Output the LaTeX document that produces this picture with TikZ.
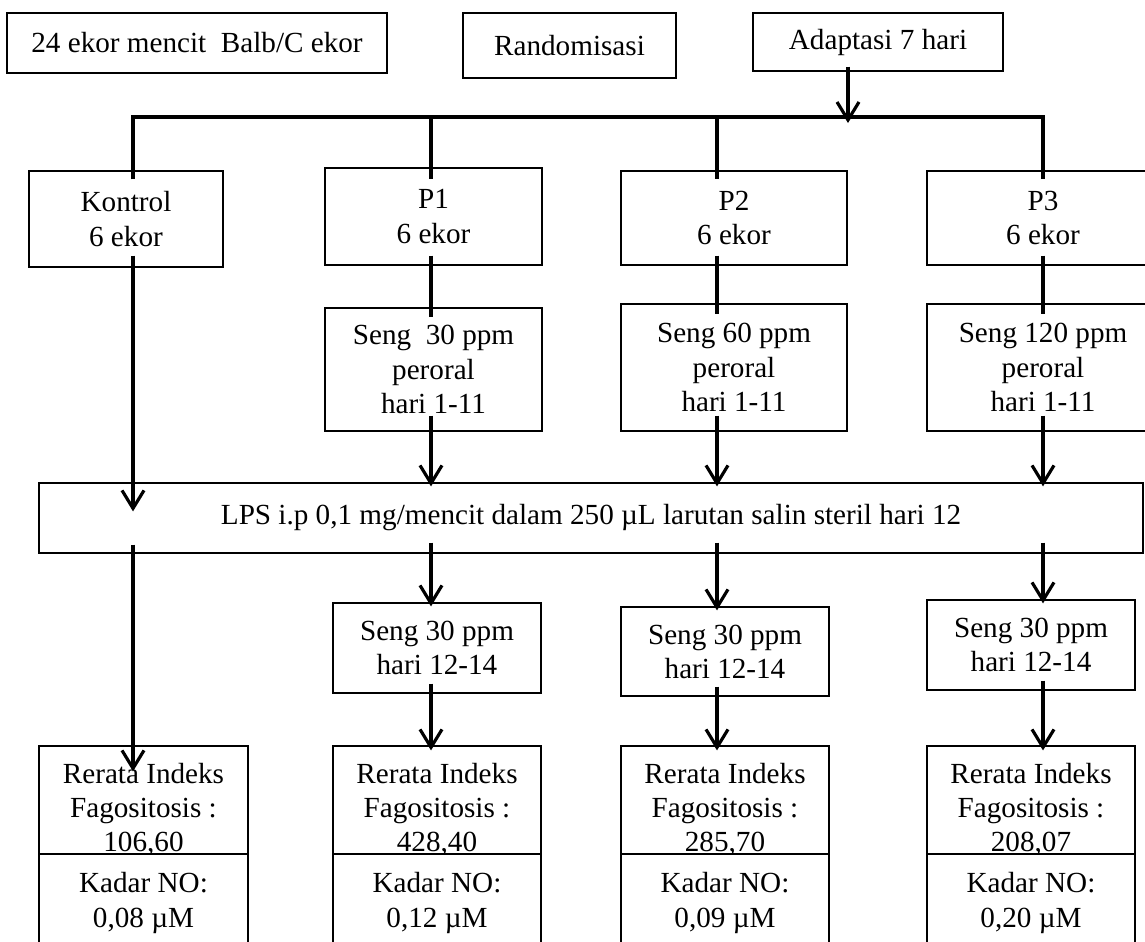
\documentclass[tikz,border=0pt]{standalone}
\usepackage{fontspec}
\setmainfont{Liberation Serif}
\usetikzlibrary{positioning, arrows.meta, calc}

\begin{document}
\begin{tikzpicture}[
    x=0.02cm, y=-0.02cm,
    box/.style={rectangle, draw=black, line width=0.7pt, align=center, inner sep=1pt,
                font=\fontsize{16.6}{19.4}\selectfont},
    link/.style={line width=1.8pt},
    flow/.style={-{Straight Barb[length=3.6mm, width=4.4mm]}, line width=1.8pt}
]
    \useasboundingbox (0,0) rectangle (1145,941);
    \clip (0,0) rectangle (1145,941);

    % Top row
    \node[box, minimum width=7.6cm, minimum height=1.2cm] (mice) at (197,43) {24 ekor mencit\ \ Balb/C ekor};
    \node[box, minimum width=4.26cm, minimum height=1.3cm] (rand) at (569.5,45.5) {Randomisasi};
    \node[box, minimum width=5cm, minimum height=1.16cm] (adapt) at (878,42) {Adaptasi 7 hari};

    % Column positions on the bus
    \coordinate (hub) at (848,117);
    \coordinate (c0) at (133,117);
    \coordinate (c1) at (431,117);
    \coordinate (c2) at (717,117);
    \coordinate (c3) at (1043,117);

    % Groups
    \node[box, minimum width=3.88cm, minimum height=1.92cm] (kontrol) at (126,219) {Kontrol\\6 ekor};
    \node[box, minimum width=4.34cm, minimum height=1.94cm] (p1) at (433.5,216.5) {P1\\6 ekor};
    \node[box, minimum width=4.52cm, minimum height=1.88cm] (p2) at (734,218) {P2\\6 ekor};
    \node[box, minimum width=4.64cm, minimum height=1.88cm] (p3) at (1043,218) {P3\\6 ekor};

    % Zinc dose, day 1-11
    \node[box, minimum width=4.34cm, minimum height=2.46cm] (s1) at (433.5,369.5) {Seng\ \ 30 ppm\\peroral\\hari 1-11};
    \node[box, minimum width=4.52cm, minimum height=2.54cm] (s2) at (734,367.5) {Seng 60 ppm\\peroral\\hari 1-11};
    \node[box, minimum width=4.64cm, minimum height=2.54cm] (s3) at (1043,367.5) {Seng 120 ppm\\peroral\\hari 1-11};

    % LPS
    \node[box, minimum width=22.08cm, minimum height=1.4cm] (lps) at (591,518)
        {LPS i.p 0,1 mg/mencit dalam 250 µL larutan salin steril hari 12};

    % Zinc, day 12-14
    \node[box, minimum width=4.16cm, minimum height=1.8cm] (t1) at (437,648) {Seng 30 ppm\\hari 12-14};
    \node[box, minimum width=4.16cm, minimum height=1.78cm] (t2) at (725,651.5) {Seng 30 ppm\\hari 12-14};
    \node[box, minimum width=4.16cm, minimum height=1.8cm] (t3) at (1031,645) {Seng 30 ppm\\hari 12-14};

    % Results
    \node[box, minimum width=4.18cm, minimum height=2.56cm] (r0) at (143.5,810) {Rerata Indeks\\Fagositosis :\\106,60};
    \node[box, minimum width=4.16cm, minimum height=2.56cm] (r1) at (437,810) {Rerata Indeks\\Fagositosis :\\428,40};
    \node[box, minimum width=4.16cm, minimum height=2.56cm] (r2) at (725,810) {Rerata Indeks\\Fagositosis :\\285,70};
    \node[box, minimum width=4.16cm, minimum height=2.56cm] (r3) at (1031,810) {Rerata Indeks\\Fagositosis :\\208,07};

    \node[box, fill=white, minimum width=4.18cm, minimum height=1.96cm] (k0) at (143.5,903) {Kadar NO:\\0,08 µM};
    \node[box, fill=white, minimum width=4.16cm, minimum height=1.96cm] (k1) at (437,903) {Kadar NO:\\0,12 µM};
    \node[box, fill=white, minimum width=4.16cm, minimum height=1.96cm] (k2) at (725,903) {Kadar NO:\\0,09 µM};
    \node[box, fill=white, minimum width=4.16cm, minimum height=1.96cm] (k3) at (1031,903) {Kadar NO:\\0,20 µM};

    % Bus
    \draw[flow, shorten >=-0.12cm] (hub |- adapt.south) ++(0,-5) -- (hub);
    \draw[link] ($(c0 |- kontrol.north)+(0,9)$) -- (c0) -- (c3) -- ($(c3 |- p3.north)+(0,9)$);
    \draw[link] (c1) -- ($(c1 |- p1.north)+(0,12)$);
    \draw[link] (c2) -- ($(c2 |- p2.north)+(0,9)$);

    % Groups to zinc
    \draw[link] ($(c1 |- p1.south)+(0,-10)$) -- ($(c1 |- s1.north)+(0,10)$);
    \draw[link] ($(c2 |- p2.south)+(0,-10)$) -- ($(c2 |- s2.north)+(0,11)$);
    \draw[link] ($(c3 |- p3.south)+(0,-10)$) -- ($(c3 |- s3.north)+(0,11)$);

    % Into LPS
    \draw[flow] ($(c0 |- kontrol.south)+(0,-12)$) -- ($(c0 |- lps.north)+(0,29)$);
    \draw[flow] ($(c1 |- s1.south)+(0,-16)$) -- ($(c1 |- lps.north)+(0,4)$);
    \draw[flow] ($(c2 |- s2.south)+(0,-16)$) -- ($(c2 |- lps.north)+(0,4)$);
    \draw[flow] ($(c3 |- s3.south)+(0,-16)$) -- ($(c3 |- lps.north)+(0,4)$);

    % Out of LPS
    \draw[flow] ($(c0 |- lps.south)+(0,-9)$) -- ($(c0 |- r0.north)+(0,26)$);
    \draw[flow] ($(c1 |- lps.south)+(0,-11)$) -- ($(c1 |- t1.north)+(0,4)$);
    \draw[flow] ($(c2 |- lps.south)+(0,-11)$) -- ($(c2 |- t2.north)+(0,4)$);
    \draw[flow] ($(c3 |- lps.south)+(0,-11)$) -- ($(c3 |- t3.north)+(0,4)$);

    % To results
    \draw[flow] ($(c1 |- t1.south)+(0,-10)$) -- ($(c1 |- r1.north)+(0,5)$);
    \draw[flow] ($(c2 |- t2.south)+(0,-10)$) -- ($(c2 |- r2.north)+(0,5)$);
    \draw[flow] ($(c3 |- t3.south)+(0,-10)$) -- ($(c3 |- r3.north)+(0,5)$);

\end{tikzpicture}
\end{document}
